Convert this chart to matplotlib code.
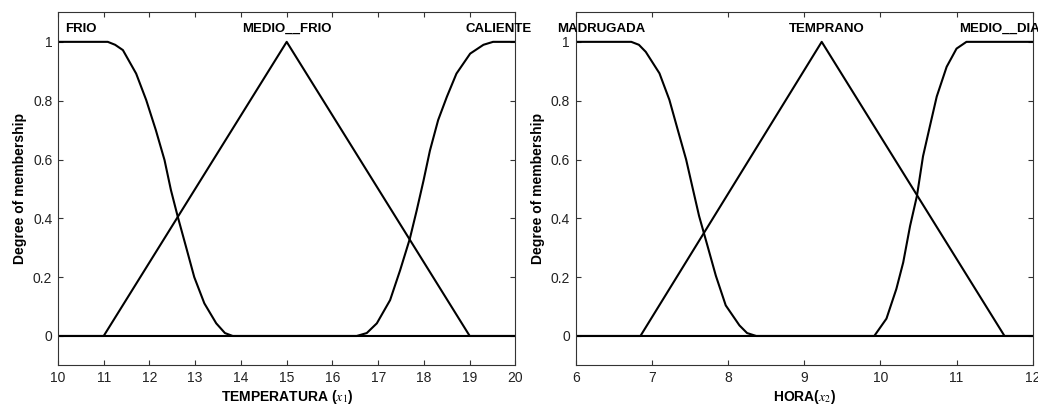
import matplotlib.pyplot as plt

plt.rcParams['font.family'] = ['Liberation Sans', 'DejaVu Sans']
plt.rcParams['mathtext.fontset'] = 'stix'

# temperatura (x1) membership functions
frio_x = [10, 11.09, 11.25, 11.42, 11.71, 11.93, 12.14, 12.33, 12.47, 12.62, 12.80, 12.98, 13.20, 13.46, 13.65, 13.82, 20]
frio_y = [1, 1, 0.99, 0.972, 0.892, 0.802, 0.70, 0.598, 0.496, 0.405, 0.303, 0.20, 0.111, 0.043, 0.01, 0, 0]
medio_frio_x = [10, 11, 15, 19, 20]
medio_frio_y = [0, 0, 1, 0, 0]
caliente_x = [10, 16.53, 16.75, 16.97, 17.26, 17.48, 17.69, 17.84, 17.99, 18.13, 18.31, 18.50, 18.71, 19.01, 19.30, 19.51, 20]
caliente_y = [0, 0, 0.01, 0.043, 0.122, 0.224, 0.33, 0.426, 0.528, 0.63, 0.734, 0.813, 0.892, 0.960, 0.99, 1, 1]

# hora (x2) membership functions
madrugada_x = [6, 6.73, 6.83, 6.92, 7.10, 7.23, 7.34, 7.45, 7.54, 7.62, 7.73, 7.84, 7.97, 8.15, 8.25, 8.37, 12]
madrugada_y = [1, 1, 0.99, 0.966, 0.893, 0.803, 0.701, 0.60, 0.498, 0.408, 0.307, 0.205, 0.104, 0.036, 0.01, 0, 0]
temprano_x = [6, 6.85, 9.23, 11.63, 12]
temprano_y = [0, 0, 1, 0, 0]
medio_dia_x = [6, 9.92, 10.08, 10.21, 10.30, 10.39, 10.48, 10.56, 10.65, 10.74, 10.87, 11.00, 11.13, 12]
medio_dia_y = [0, 0, 0.059, 0.16, 0.25, 0.374, 0.476, 0.611, 0.713, 0.814, 0.915, 0.977, 1, 1]

temp_labels = ['FRIO', 'MEDIO__FRIO', 'CALIENTE']
temp_label_x = [10.5, 15.0, 19.64]
hora_labels = ['MADRUGADA', 'TEMPRANO', 'MEDIO__DIA']
hora_label_x = [6.34, 9.3, 11.56]

temp_ticks = [10, 11, 12, 13, 14, 15, 16, 17, 18, 19, 20]
hora_ticks = [6, 7, 8, 9, 10, 11, 12]
y_ticks = [0, 0.2, 0.4, 0.6, 0.8, 1]

fig = plt.figure(figsize=(10.38, 4.09), dpi=100)
ax1 = fig.add_axes([0.0558, 0.1066, 0.4408, 0.863])
ax2 = fig.add_axes([0.5546, 0.1066, 0.4403, 0.863])

edge = '#333333'


def style(ax, xticks, xlim):
    ax.set_xlim(xlim)
    ax.set_ylim(-0.1, 1.1)
    ax.set_xticks(xticks)
    ax.set_yticks(y_ticks)
    ax.set_yticklabels(['0', '0.2', '0.4', '0.6', '0.8', '1'])
    ax.tick_params(direction='in', length=3.5, width=0.8, color=edge,
                   labelcolor='#222222', labelsize=10, top=True, right=True, pad=4)
    for s in ax.spines.values():
        s.set_color(edge)
        s.set_linewidth(0.8)
    ax.set_ylabel('Degree of membership', fontsize=10, fontweight='bold', labelpad=4)


ax1.plot(frio_x, frio_y, color='black', lw=1.5)
ax1.plot(medio_frio_x, medio_frio_y, color='black', lw=1.5)
ax1.plot(caliente_x, caliente_y, color='black', lw=1.5)
for name, xp in zip(temp_labels, temp_label_x):
    ax1.text(xp, 1.045, name, ha='center', va='center', fontsize=9.5, fontweight='bold')
style(ax1, temp_ticks, (10, 20))
ax1.set_xlabel(r'TEMPERATURA ($x_1$)', fontsize=10, fontweight='bold', labelpad=2)

ax2.plot(madrugada_x, madrugada_y, color='black', lw=1.5)
ax2.plot(temprano_x, temprano_y, color='black', lw=1.5)
ax2.plot(medio_dia_x, medio_dia_y, color='black', lw=1.5)
for name, xp in zip(hora_labels, hora_label_x):
    ax2.text(xp, 1.045, name, ha='center', va='center', fontsize=9.5, fontweight='bold')
style(ax2, hora_ticks, (6, 12))
ax2.set_xlabel(r'HORA($x_2$)', fontsize=10, fontweight='bold', labelpad=2)

fig.savefig('out.png', dpi=100)
